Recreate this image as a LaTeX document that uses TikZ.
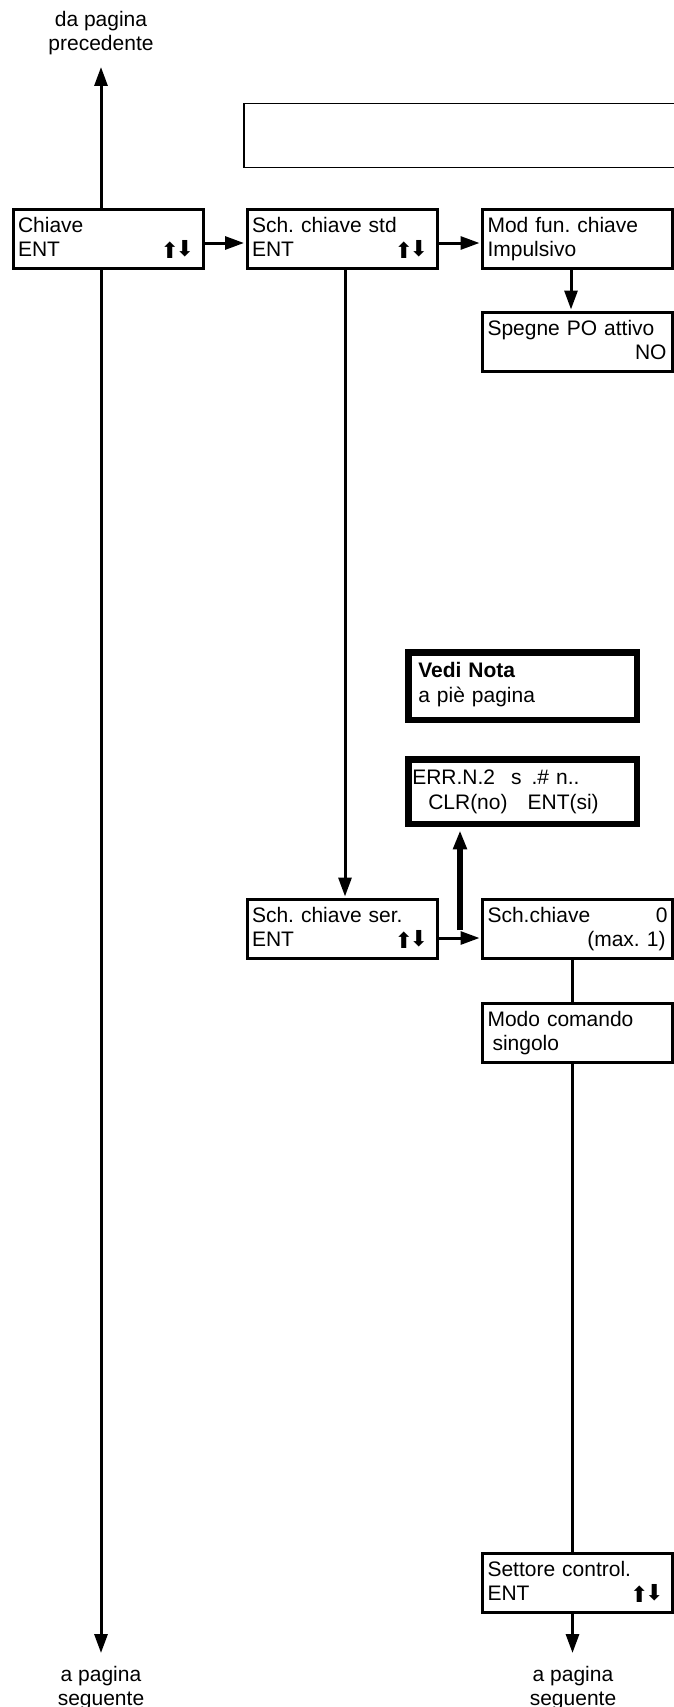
\documentclass[tikz,border=0pt]{standalone}
\usepackage{fontspec}
\setmainfont{Liberation Sans}
\newfontfamily\arrfont{DejaVu Sans}
\usetikzlibrary{arrows.meta}
\frenchspacing
\newcommand{\ud}{\smash{{\arrfont\fontsize{22}{22}\selectfont\raisebox{-1.5pt}{⬆}\kern-3.5pt⬇}}}
\newcommand{\tstr}{\rule{0pt}{16.8pt}}
\newcommand{\dstr}[1]{\rule[-#1]{0pt}{#1}}
\begin{document}
\begin{tikzpicture}[x=1pt,y=-1pt,
  every node/.style={font=\fontsize{21}{24}\selectfont},
  box/.style={draw, line width=3pt, minimum width=190pt, minimum height=59pt,
    inner xsep=5pt, inner ysep=0pt, text width=180pt, align=left},
  boldbox/.style={draw, line width=6.5pt, minimum width=228.5pt,
    inner xsep=4pt, inner ysep=0pt, text width=220.5pt, align=left,
    font=\fontsize{21}{25}\selectfont},
  blankbox/.style={draw, line width=1.2pt, minimum width=456pt, minimum height=64pt},
  conn/.style={line width=3pt},
  arr/.style={conn, -{Triangle[length=19pt,width=13pt]}},
  note/.style={align=center, inner sep=0pt, font=\fontsize{21}{24}\selectfont}]
\useasboundingbox (0,0) rectangle (674,1707);

% page-link labels
\node[note] (dapag) at (101,33) {\tstr da pagina\\precedente\dstr{5pt}};
\node[note] (apagL) at (101,1688) {\tstr a pagina\\seguente\dstr{5pt}};
\node[note] (apagR) at (573,1688) {\tstr a pagina\\seguente\dstr{5pt}};
\coordinate (topL) at (101,67);
\coordinate (botL) at (101,1653);
\coordinate (botR) at (572.5,1653);

% empty box
\node[blankbox] (blank) at (472,135.5) {};

% boxes
\node[box] (chiave) at (108,239) {\tstr Chiave\\ENT\hfill\ud\hspace*{4pt}\dstr{5pt}};
\node[box] (std) at (342,239) {\tstr Sch. chiave std\\ENT\hfill\ud\hspace*{4pt}\dstr{5pt}};
\node[box] (modf) at (577.5,239) {\tstr Mod fun. chiave\\Impulsivo\dstr{5pt}};
\node[box] (speg) at (577.5,342) {\tstr Spegne PO attivo\\\hfill NO\hspace*{1pt}\dstr{5pt}};

\node[boldbox, minimum height=67.5pt] (vedi) at (522.5,686)
  {\tstr\hspace*{6pt}\textbf{Vedi Nota}\\\hspace*{6pt}a pi\`e pagina\dstr{9.8pt}};
\node[boldbox, minimum height=64.5pt] (err) at (522.5,791.5)
  {\tstr ERR.N.2\hspace{16pt}s\hspace{10pt}.\#\ n..\\\hspace*{16pt}CLR(no)\hspace{20pt}ENT(si)\dstr{6.8pt}};

\node[box] (ser) at (342,929) {\tstr Sch. chiave ser.\\ENT\hfill\ud\hspace*{4pt}\dstr{5pt}};
\node[box] (schk) at (577.5,929) {\tstr Sch.chiave\hfill 0\hspace*{14pt}\\\hfill(max. 1)\hspace*{2pt}\dstr{5pt}};
\node[box] (modo) at (577.5,1033) {\tstr Modo comando\\\hspace*{5pt}singolo\dstr{5pt}};
\node[box] (sett) at (577.5,1583) {\tstr Settore control.\\ENT\hfill\ud\hspace*{4pt}\dstr{5pt}};

% connectors
\draw[arr] ([xshift=-7pt]chiave.north) -- (topL);
\draw[arr] ([xshift=-7pt]chiave.south) -- (botL);
\draw[arr, shorten >=1.5pt] ([yshift=-4pt]chiave.east) -- ([yshift=-4pt]std.west);
\draw[arr, shorten >=1.5pt] ([yshift=-4pt]std.east) -- ([yshift=-4pt]modf.west);
\draw[arr, shorten >=1.5pt] ([xshift=-6.5pt]modf.south) -- ([xshift=-6.5pt]speg.north);
\draw[arr, shorten >=1.5pt] ([xshift=3pt]std.south) -- ([xshift=3pt]ser.north);
\draw[arr, shorten >=1.5pt] ([yshift=-9pt]ser.east) -- ([yshift=-9pt]schk.west);
\coordinate (tk) at (460,930);
\draw[arr, line width=6pt, shorten >=3.25pt] (tk) -- (err.south -| tk);
\draw[conn] ([xshift=-5.5pt]schk.south) -- ([xshift=-5.5pt]modo.north);
\draw[conn] ([xshift=-5pt]modo.south) -- ([xshift=-5pt]sett.north);
\draw[arr] ([xshift=-5pt]sett.south) -- (botR);
\end{tikzpicture}
\end{document}
